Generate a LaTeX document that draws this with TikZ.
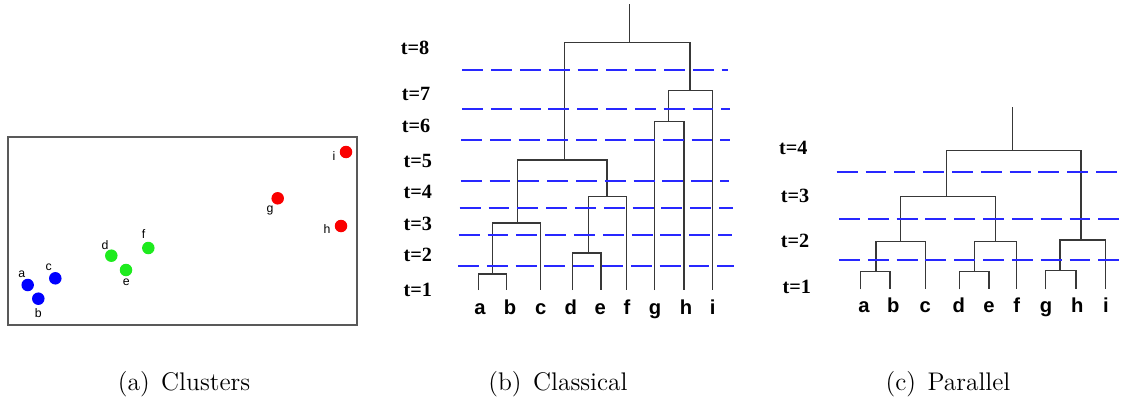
\documentclass[tikz,border=0pt]{standalone}
\usepackage{fontspec}
\newfontfamily\lsans{Liberation Sans}
\newfontfamily\lserif{Liberation Serif}
\definecolor{cutblue}{RGB}{40,40,255}
\definecolor{dotblue}{RGB}{0,0,255}
\definecolor{dotgreen}{RGB}{30,235,30}
\definecolor{dotred}{RGB}{250,0,0}
\begin{document}
\begin{tikzpicture}[x=0.02cm,y=-0.02cm,
  tree/.style={draw=black!78, line width=0.85pt},
  cut/.style={draw=cutblue, line width=1pt, dash pattern=on 11.9pt off 4.5pt},
  leaf/.style={font=\lsans\bfseries\fontsize{11.5}{13}\selectfont, anchor=base, inner sep=0pt},
  tlab/.style={font=\lserif\bfseries\fontsize{11.5}{13}\selectfont, anchor=base, inner sep=0pt},
  dot/.style={circle, minimum size=0.25cm, inner sep=0pt, draw=none},
  ptlab/.style={font=\lsans\fontsize{7}{8}\selectfont, inner sep=0pt},
  frame/.style={draw=black!65, line width=0.6pt},
  captext/.style={font=\fontsize{14.5}{16}\selectfont, anchor=base, inner sep=0pt}]
\useasboundingbox (0,0) rectangle (1131,402);

% ---------- (a) clusters ----------
\draw[frame] (8,137) rectangle (357,325);
\node[dot, fill=dotblue]  (pa) at (27.7,285) {};
\node[dot, fill=dotblue]  (pb) at (38.3,298.7) {};
\node[dot, fill=dotblue]  (pc) at (55.3,278.3) {};
\node[dot, fill=dotgreen] (pd) at (111.3,255.7) {};
\node[dot, fill=dotgreen] (pe) at (126,270) {};
\node[dot, fill=dotgreen] (pf) at (148.3,248) {};
\node[dot, fill=dotred]   (pg) at (277.7,198.3) {};
\node[dot, fill=dotred]   (ph) at (341,226) {};
\node[dot, fill=dotred]   (pi) at (346,152) {};
\node[ptlab] (qa) at (21.7,274) {a};
\node[ptlab] (qb) at (38.3,312.7) {b};
\node[ptlab] (qc) at (48.7,267.7) {c};
\node[ptlab] (qd) at (105,244.7) {d};
\node[ptlab] (qe) at (126.3,282.7) {e};
\node[ptlab] (qf) at (143.7,234) {f};
\node[ptlab] (qg) at (270,210) {g};
\node[ptlab] (qh) at (327,229.3) {h};
\node[ptlab] (qi) at (334,156) {i};

% ---------- (b) classical ----------
\foreach \n/\x in {a/478.3,b/506.7,c/540.7,d/572.7,e/601,f/626.7,g/654.3,h/684,i/712.3}
  \coordinate (B\n) at (\x,290);
\coordinate (Bab) at (492.7,274);
\coordinate (Babc) at (517.7,223);
\coordinate (Bde) at (588.3,253);
\coordinate (Bdef) at (607,196.7);
\coordinate (Bleft) at (564.3,160);
\coordinate (Bgh) at (668.7,121.7);
\coordinate (Bghi) at (690,90.3);
\coordinate (Broot) at (629.3,42.7);
\coordinate (Btop) at (629.3,4);
\draw[tree] (Ba) |- (Bab) -| (Bb);
\draw[tree] (Bab) |- (Babc) -| (Bc);
\draw[tree] (Bd) |- (Bde) -| (Be);
\draw[tree] (Bde) |- (Bdef) -| (Bf);
\draw[tree] (Babc) |- (Bleft) -| (Bdef);
\draw[tree] (Bg) |- (Bgh) -| (Bh);
\draw[tree] (Bgh) |- (Bghi) -| (Bi);
\draw[tree] (Bleft) |- (Broot) -| (Bghi);
\draw[tree] (Broot) -- (Btop);
\foreach \n/\x in {a/480,b/510,c/540.7,d/570.7,e/600.3,f/627,g/655,h/686,i/712.7}
  \node[leaf] (BL\n) at (\x,314) {\n};
\foreach \t/\x/\y in {8/415/55,7/416/100,6/416/132.7,5/417.7/167.5,4/417.7/198.7,3/417.7/230,2/417.7/261,1/417.7/296}
  \node[tlab] (BT\t) at (\x,\y) {t=\t};
\foreach \k/\y/\xa/\xb in {1/69.7/462.3/727.7,2/109/462/730,3/140/461/730,4/181/460.7/728.7,5/208/459.7/732.7,6/235/458.7/731.7,7/265.7/458/734}
  {\coordinate (BcA\k) at (\xa,\y); \coordinate (BcB\k) at (\xb,\y);
   \draw[cut] (BcA\k) -- (BcB\k);}

% ---------- (c) parallel ----------
\foreach \n/\x in {a/860.7,b/890,c/925.3,d/959.7,e/989,f/1016.7,g/1045.3,h/1076,i/1105.7}
  \coordinate (C\n) at (\x,289.3);
\coordinate (Cab) at (876,271.7);
\coordinate (Cabc) at (900.7,241.3);
\coordinate (Cde) at (974.3,271.7);
\coordinate (Cdef) at (995.3,241.3);
\coordinate (Cleft) at (946.3,196.3);
\coordinate (Cgh) at (1060,270.3);
\coordinate (Cghi) at (1081,240);
\coordinate (Croot) at (1012.7,150.7);
\coordinate (Ctop) at (1012.7,107.3);
\draw[tree] (Ca) |- (Cab) -| (Cb);
\draw[tree] (Cab) |- (Cabc) -| (Cc);
\draw[tree] (Cd) |- (Cde) -| (Ce);
\draw[tree] (Cde) |- (Cdef) -| (Cf);
\draw[tree] (Cabc) |- (Cleft) -| (Cdef);
\draw[tree] (Cg) |- (Cgh) -| (Ch);
\draw[tree] (Cgh) |- (Cghi) -| (Ci);
\draw[tree] (Cleft) |- (Croot) -| (Cghi);
\draw[tree] (Croot) -- (Ctop);
\foreach \n/\x in {a/864,b/893.3,c/925.3,d/958.7,e/989,f/1016.7,g/1046,h/1077.3,i/1106}
  \node[leaf] (CL\n) at (\x,312.7) {\n};
\foreach \t/\x/\y in {4/793.3/154.3,3/795/202.7,2/795/247,1/796.7/293.3}
  \node[tlab] (CT\t) at (\x,\y) {t=\t};
\foreach \k/\y/\xa/\xb in {1/172.3/836.7/1120,2/219.3/839/1121.7,3/260/839/1124.3}
  {\coordinate (CcA\k) at (\xa,\y); \coordinate (CcB\k) at (\xb,\y);
   \draw[cut] (CcA\k) -- (CcB\k);}

% ---------- captions ----------
\node[captext] (capa) at (184,390) {(a)\hspace{0.45em}Clusters};
\node[captext] (capb) at (558,390) {(b)\hspace{0.45em}Classical};
\node[captext] (capc) at (948,390) {(c)\hspace{0.45em}Parallel};
\end{tikzpicture}
\end{document}
